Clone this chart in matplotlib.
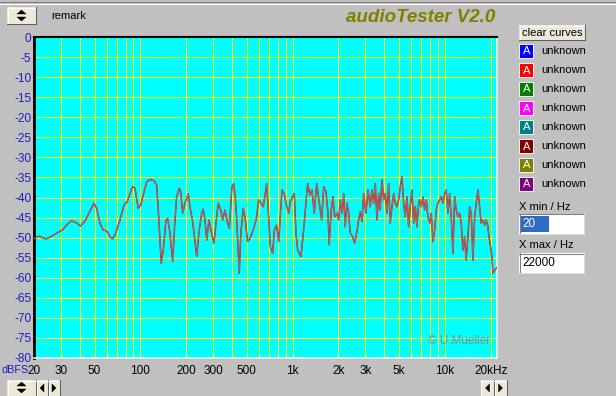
"""
audioTester V2.0 screenshot - frequency response (dBFS vs Hz, log x-axis)
"""

import matplotlib.pyplot as plt
from matplotlib.patches import Rectangle, Polygon
from matplotlib.lines import Line2D

W, H = 616, 396

freq_hz = [
    20, 21.6, 22.7, 23.9, 25.1, 26.4, 28.4, 30.7, 33.1, 35.2, 37.6, 40.5, 43.7, 47.1,
    49.5, 51.6, 54.3, 56.8, 60.1, 63.1, 65.8, 68.8, 73.4, 78.0, 82.0, 87.1, 89.3,
    92.1, 96.8, 100.4, 104.4, 109.9, 115.6, 122.8, 127.9, 131, 134.5, 137.1, 141.3,
    147.2, 151.1, 156.4, 162.9, 168.7, 173.1, 180, 183.9, 189.5, 196.3, 206.2, 211.6,
    220.4, 234.2, 242.6, 252.6, 258.8, 265.6, 272.6, 282.2, 293.8, 304.2, 313.6, 324.8,
    336.8, 347, 359.4, 372, 383.4,
    399.4, 409.8, 419.8, 428.8, 442, 446, 457.6, 473.8, 488.4, 506.4, 524.4, 540.6,
    559.6, 580.4, 598.2, 619.4, 641.2, 661, 675.2, 695.8, 713, 739.4, 757.4, 785.2,
    809.4, 829.2, 851, 881.2, 913.6, 941.8, 964.8, 1000, 1025, 1052, 1079, 1134, 1175,
    1211, 1255, 1300, 1340, 1387, 1438, 1496, 1551,
    1599, 1655, 1706, 1740, 1793, 1840, 1888, 1955, 2006, 2055, 2108, 2164, 2216, 2274,
    2334, 2390, 2480, 2554, 2646, 2714, 2780, 2854, 2928, 3032, 3124, 3236, 3320, 3406,
    3490, 3580, 3672, 3762, 3860, 3962, 4058, 4164, 4272, 4378, 4490, 4608, 4720, 4844,
    4970, 5092, 5224, 5360, 5492, 5634, 5780, 5922, 6076, 6234, 6388, 6552, 6724,
    6828, 6996, 7178, 7362, 7544, 7740, 7942, 8136, 8348, 8564, 8776, 9004, 9238, 9466,
    9712, 9964, 10208, 10472, 10746, 11010, 11298, 11592, 11874, 12184, 12500, 12806,
    13140, 13482, 13814, 14172, 14542, 14900, 15288, 15686, 16070, 16486, 16918, 17332,
    17784, 18246, 18696, 19180, 19474, 19982, 20376, 20688, 21228, 22000,
]
level_db = [
    -50.3, -49.6, -50.0, -50.3, -50.0, -49.5, -48.8, -48.1, -46.7, -45.8, -46.2, -47.1,
    -45.6, -43.1, -41.4, -42.7, -46.4, -48.1, -48.3, -49.8, -50.3, -48.9, -45.6, -41.9,
    -41.0, -38.1, -37.3,
    -37.7, -42.7, -41.9, -39.4, -36.1, -35.5, -35.8, -36.9, -43.1, -50.6, -56.4, -53.1,
    -45.6, -45.2, -48.9, -56.0, -45.6, -39.8, -37.7, -38.5, -43.9, -41.4, -39.1, -42.3,
    -46.0, -54.7, -48.5, -43.9, -42.9, -45.6, -50.6, -45.6, -48.9, -51.4, -46.4, -41.4,
    -43.1, -45.6, -43.1, -46.0, -47.7,
    -37.3, -36.5, -39.8, -45.2, -55.6, -58.9, -48.5, -42.7, -45.6, -51.0, -50.2, -48.9,
    -47.3, -44.8, -40.6, -41.4, -42.3, -39.0, -36.5, -44.8, -52.3, -53.9, -48.1, -46.9,
    -51.0, -44.8, -38.1, -39.0, -42.3, -43.9, -41.0, -39.8, -39.0, -48.9, -53.1, -54.7,
    -48.9, -43.1, -36.5, -39.4, -38.1, -43.9, -36.5, -41.4, -45.6,
    -37.3, -38.5, -43.9, -51.8, -43.1, -39.8, -44.8, -43.9, -45.6, -40.6, -43.9, -39.0,
    -47.3, -41.4, -43.9, -48.9, -49.8, -51.4, -48.5, -45.6, -43.5, -46.0, -39.0, -43.9,
    -38.1, -42.3, -38.1, -41.4, -36.5, -45.6, -39.0, -43.1, -35.6, -40.6, -39.0, -43.9,
    -36.5, -46.4, -42.3, -39.0, -41.4, -42.3, -40.6, -37.3, -34.8, -41.4, -44.8, -39.8,
    -47.3, -42.3, -38.1, -46.4, -42.3, -47.3, -41.4,
    -40.6, -42.3, -39.8, -43.1, -40.6, -44.8, -46.4, -43.9, -51.0, -48.1, -43.1, -41.4,
    -40.6, -39.8, -41.4, -39.0, -38.1, -43.9, -39.0, -44.8, -53.9, -39.8, -43.1, -44.8,
    -43.9, -46.4, -53.1, -49.8, -55.6, -49.8, -42.3, -43.9, -55.6, -44.8, -41.4, -38.1,
    -42.3, -46.4, -45.6, -46.9, -45.6, -47.3, -49.8, -52.3, -54.7, -58.9, -58.1, -57.5,
]

y_ticks = list(range(0, -85, -5))
x_ticks = [20, 30, 50, 100, 200, 300, 500, 1000, 2000, 3000, 5000, 10000, 20000]
x_tick_labels = ["20", "30", "50", "100", "200", "300", "500", "1k", "2k", "3k",
                 "5k", "10k", "20kHz"]
grid_freqs = ([f for f in range(20, 100, 10)] + [f for f in range(100, 1000, 100)]
              + [f for f in range(1000, 10000, 1000)] + [10000, 20000])
curve_colors = ["#0000ff", "#ff0000", "#008000", "#ff00ff",
                "#008080", "#800000", "#808000", "#800080"]
curve_names = ["unknown"] * 8

plt.rcParams['font.family'] = ['Liberation Sans', 'DejaVu Sans']

fig = plt.figure(figsize=(W / 100, H / 100), dpi=100)
fig.patch.set_facecolor("#c0c0c0")


def fx(px):
    return px / W


def fy(py):
    return 1 - py / H


def rect(x0, y0, x1, y1, face, z=1):
    fig.patches.append(Rectangle((fx(x0), fy(y1)), fx(x1) - fx(x0), fy(y0) - fy(y1),
                                 transform=fig.transFigure, facecolor=face,
                                 edgecolor=face, linewidth=0.0, zorder=z))


def hline(x0, x1, y, color, lw=0.75):
    fig.lines.append(Line2D([fx(x0), fx(x1)], [fy(y), fy(y)], transform=fig.transFigure,
                            color=color, linewidth=lw))


def vline(x, y0, y1, color, lw=0.75):
    fig.lines.append(Line2D([fx(x), fx(x)], [fy(y0), fy(y1)], transform=fig.transFigure,
                            color=color, linewidth=lw))


def button(x0, y0, x1, y1, face="#ece9d8"):
    rect(x0, y0, x1, y1, face)
    hline(x0, x1, y0 + 0.5, "white")
    vline(x0 + 0.5, y0, y1, "white")
    hline(x0, x1, y1 - 0.5, "#606060")
    vline(x1 - 0.5, y0, y1, "#606060")


def tri(points):
    fig.patches.append(Polygon([(fx(a), fy(b)) for a, b in points], closed=True,
                               transform=fig.transFigure, facecolor="black",
                               edgecolor="black", linewidth=0.3))


def text_box(x0, y0, x1, y1):
    rect(x0, y0, x1, y1, "white")
    hline(x0, x1, y0 + 0.5, "#808080")
    vline(x0 + 0.5, y0, y1, "#808080")
    hline(x0, x1, y1 - 0.5, "#e0e0e0")
    vline(x1 - 0.5, y0, y1, "#e0e0e0")


# window top edge
hline(0, W, 1.5, "#808080")
hline(0, W, 3.5, "white")

# ---- plot area ----
ax = fig.add_axes([fx(34), fy(358), fx(497) - fx(34), fy(37) - fy(358)])
ax.set_facecolor("#00ffff")
ax.set_xscale("log")
ax.set_xlim(20, 22000)
ax.set_ylim(-80, 0)

# crisp 1 px yellow grid
for f in grid_freqs:
    ax.axvline(f, color="#ffff00", linewidth=0.72, antialiased=False, zorder=1)
for v in y_ticks:
    ax.axhline(v, color="#ffff00", linewidth=0.72, antialiased=False, zorder=1)

ax.plot(freq_hz, level_db, color="#ff0000", linewidth=1.1, zorder=3)
ax.plot(freq_hz, level_db, color="#808080", linewidth=0.6, zorder=4)

ax.set_xticks(x_ticks)
ax.set_xticklabels(x_tick_labels)
ax.xaxis.set_minor_locator(plt.NullLocator())
ax.set_yticks(y_ticks)
ax.set_yticklabels([str(v) for v in y_ticks])
ax.tick_params(axis="x", length=0, pad=5, labelsize=8.5, labelcolor="black")
ax.tick_params(axis="y", length=0, pad=2, labelsize=8.5, labelcolor="#1c1cc0")

ax.spines["top"].set_color("black")
ax.spines["left"].set_color("black")
ax.spines["top"].set_linewidth(1.5)
ax.spines["left"].set_linewidth(2.0)
ax.spines["bottom"].set_color("#f4f4f4")
ax.spines["right"].set_color("#f4f4f4")
ax.spines["bottom"].set_linewidth(1.2)
ax.spines["right"].set_linewidth(1.2)

ax.text(0.985, 0.035, "© U.Mueller", transform=ax.transAxes, ha="right", va="bottom",
        fontsize=8.5, color="#7090aa", zorder=5)

fig.text(fx(1), fy(370), "dBFS", ha="left", va="center", fontsize=7.8, color="#1c1cc0")

# ---- header ----
button(7, 7, 36, 24)
tri([(17, 14), (26, 14), (21.5, 10)])
tri([(17, 17), (26, 17), (21.5, 21)])
fig.text(fx(51), fy(16), "remark", ha="left", va="center", fontsize=8)
fig.text(fx(421), fy(17), "audioTester V2.0", ha="center", va="center", fontsize=13.5,
         fontweight="bold", fontstyle="italic", color="#808000")

# ---- bottom scroll controls ----
button(7, 380, 36, 396)
tri([(17, 386), (26, 386), (21.5, 382)])
tri([(17, 389), (26, 389), (21.5, 393)])
button(36, 380, 48, 396)
tri([(44, 384), (44, 392), (40, 388)])
button(48, 380, 60, 396)
tri([(52, 384), (52, 392), (56, 388)])
button(481, 380, 494, 396)
tri([(489.5, 384), (489.5, 392), (485.5, 388)])
button(494, 380, 507, 396)
tri([(498.5, 384), (498.5, 392), (502.5, 388)])

# ---- right panel ----
button(519, 25, 585, 40)
fig.text(fx(552), fy(32.5), "clear curves", ha="center", va="center", fontsize=8)

for i, (c, name) in enumerate(zip(curve_colors, curve_names)):
    yc = 51 + i * 19
    rect(519, yc - 7, 534, yc + 8, "#f0f0f0")
    rect(520, yc - 6, 533, yc + 7, c)
    fig.text(fx(526.5), fy(yc + 0.5), "A", ha="center", va="center", fontsize=8,
             color="white")
    fig.text(fx(541), fy(yc), name, ha="left", va="center", fontsize=8)

fig.text(fx(519), fy(207), "X min / Hz", ha="left", va="center", fontsize=8)
text_box(519, 214, 584, 234)
rect(521, 216, 549, 232, "#316ac5")
fig.text(fx(522), fy(224), "20", ha="left", va="center", fontsize=8.5, color="white")

fig.text(fx(519), fy(245), "X max / Hz", ha="left", va="center", fontsize=8)
text_box(519, 253, 584, 273)
fig.text(fx(522), fy(263), "22000", ha="left", va="center", fontsize=8.5)

fig.savefig("out.png", dpi=100, facecolor=fig.get_facecolor())
